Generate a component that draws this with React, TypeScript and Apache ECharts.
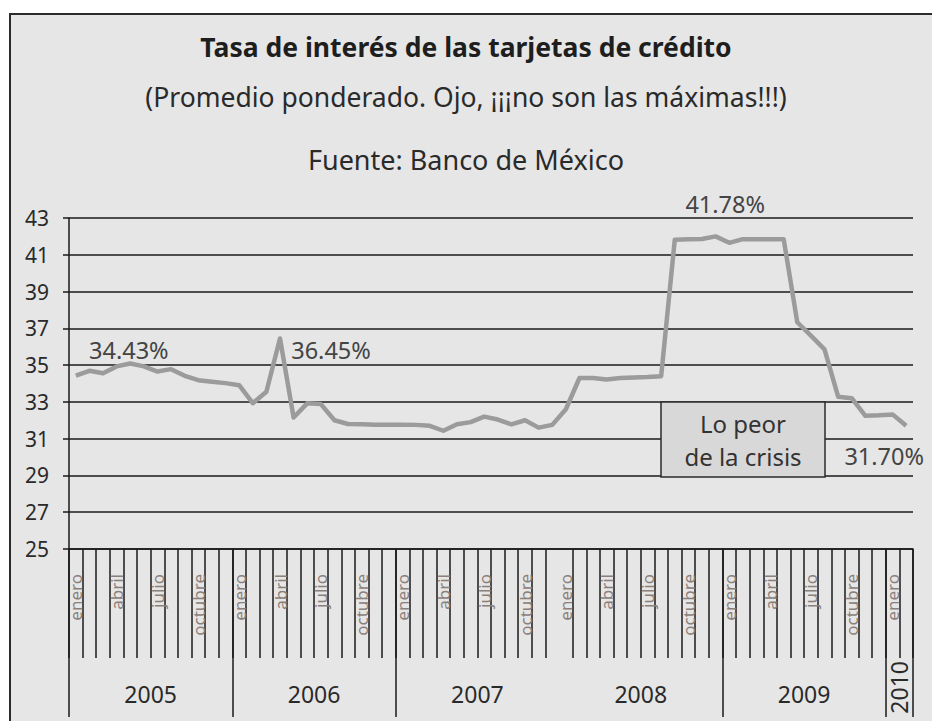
import React, { useEffect, useRef } from 'react';
import * as echarts from 'echarts';

const monthNames = ['enero', 'febrero', 'marzo', 'abril', 'mayo', 'junio', 'julio', 'agosto', 'septiembre', 'octubre', 'noviembre', 'diciembre'];
const years = ['2005', '2006', '2007', '2008', '2009', '2010'];
const monthsPerYear = [12, 12, 12, 12, 12, 2];
const labeledMonths = ['enero', 'abril', 'julio', 'octubre'];

// Tasa de interés promedio ponderado (%), mensual ene-2005 a feb-2010
const rates2005 = [34.43, 34.69, 34.56, 34.93, 35.09, 34.93, 34.65, 34.78, 34.42, 34.18, 34.10, 34.02];
const rates2006 = [33.91, 32.93, 33.55, 36.45, 32.15, 32.92, 32.88, 32.00, 31.80, 31.78, 31.76, 31.76];
const rates2007 = [31.76, 31.75, 31.70, 31.43, 31.78, 31.90, 32.20, 32.04, 31.78, 32.00, 31.60, 31.75];
const rates2008 = [32.60, 34.30, 34.30, 34.22, 34.30, 34.32, 34.35, 34.40, 41.82, 41.84, 41.86, 42.00];
const rates2009 = [41.65, 41.85, 41.85, 41.85, 41.85, 37.33, 36.60, 35.86, 33.28, 33.20, 32.24, 32.27];
const rates2010 = [32.32, 31.70];

const yTicks = [25, 27, 29, 31, 33, 35, 37, 39, 41, 43];
// month offsets of the long year divider lines (the 2008 divider is absent in the source)
const yearDividers = [0, 12, 24, 48, 60, 62];
const yearLabelAt = [6, 18, 30, 42, 54];
const lastYearLabelAt = [61];

const labelIndex = [0, 15, 48, 61];
const labelText = ['34.43%', '36.45%', '41.78%', '31.70%'];

const boxText = 'Lo peor\nde la crisis';

const FONT = '"Noto Sans", "DejaVu Sans", sans-serif';

export default function App() {
  const ref = useRef<HTMLDivElement>(null);
  useEffect(() => {
    if (!ref.current) return;
    const chart = echarts.init(ref.current, undefined, { renderer: 'svg' });

    const categories: string[] = [];
    years.forEach((y, yi) => {
      for (let m = 0; m < monthsPerYear[yi]; m++) categories.push(y + '|' + monthNames[m]);
    });
    const rates = [...rates2005, ...rates2006, ...rates2007, ...rates2008, ...rates2009, ...rates2010];

    // month ticks: all boundaries except the one at start of 2008 (missing in source)
    const monthTickIdx: number[] = [];
    for (let i = 0; i < categories.length; i++) if (i !== 36) monthTickIdx.push(i);

    const labelOffsets = [[53, -26], [51, 12], [-4, -39], [-22, 30]];

    const option: any = {
      animation: false,
      backgroundColor: '#ffffff',
      textStyle: { fontFamily: FONT },
      title: [
        { text: 'Tasa de interés de las tarjetas de crédito', left: 'center', top: 28,
          textStyle: { fontSize: 26.5, fontWeight: 'bold', color: '#1e1e1e', fontFamily: FONT } },
        { text: '(Promedio ponderado. Ojo, ¡¡¡no son las máximas!!!)', left: 'center', top: 78,
          textStyle: { fontSize: 26.5, fontWeight: 'normal', color: '#2a2a2a', fontFamily: FONT } },
        { text: 'Fuente: Banco de México', left: 'center', top: 141,
          textStyle: { fontSize: 27, fontWeight: 'normal', color: '#2a2a2a', fontFamily: FONT } },
      ],
      graphic: [
        { type: 'rect', z: -10, silent: true,
          shape: { x: 10, y: 14, width: 940, height: 720 },
          style: { fill: '#e6e6e6', stroke: '#2b2b2b', lineWidth: 2 } },
        { type: 'rect', z: 50,
          shape: { x: 661, y: 402, width: 164, height: 75 },
          style: { fill: '#d8d8d8', stroke: '#2b2b2b', lineWidth: 1.5 } },
        { type: 'text', z: 51, x: 743, y: 440,
          style: { text: boxText, fill: '#333', font: '24px ' + FONT, textAlign: 'center', textVerticalAlign: 'middle', lineHeight: 33 } },
      ],
      grid: { left: 69, right: 19, top: 218, bottom: 172, containLabel: false },
      xAxis: [
        {
          type: 'category', data: categories, boundaryGap: true, position: 'bottom',
          axisLine: { show: true, lineStyle: { color: '#1a1a1a', width: 1.5 } },
          axisTick: { show: true, length: 109, customValues: monthTickIdx, lineStyle: { color: '#1a1a1a', width: 1.5 } },
          axisLabel: {
            interval: 0, rotate: 90, margin: 25, fontSize: 17, color: '#8a807b', fontFamily: FONT,
            formatter: (v: string) => { const m = v.split('|')[1]; return labeledMonths.includes(m) ? m : ''; },
          },
          splitLine: { show: false },
        },
        {
          type: 'value', min: 0, max: 62, position: 'bottom',
          axisLine: { show: false },
          axisTick: { show: true, length: 168, customValues: yearDividers, lineStyle: { color: '#1a1a1a', width: 1.5 } },
          axisLabel: { show: false },
          splitLine: { show: false },
        },
        {
          type: 'value', min: 0, max: 62, position: 'bottom',
          axisLine: { show: false }, axisTick: { show: false }, splitLine: { show: false },
          axisLabel: { show: true, customValues: yearLabelAt, margin: 133, fontSize: 23, color: '#2a2a2a', fontFamily: FONT,
            formatter: (v: number) => years[Math.round((v - 6) / 12)] },
        },
        {
          type: 'value', min: 0, max: 62, position: 'bottom',
          axisLine: { show: false }, axisTick: { show: false }, splitLine: { show: false },
          axisLabel: { show: true, customValues: lastYearLabelAt, rotate: 90, margin: 112, fontSize: 23, color: '#2a2a2a', fontFamily: FONT,
            formatter: () => years[years.length - 1] },
        },
      ],
      yAxis: {
        type: 'value', min: 25, max: 43,
        axisLine: { show: true, lineStyle: { color: '#1a1a1a', width: 1.5 } },
        axisTick: { show: true, length: 6, customValues: yTicks, lineStyle: { color: '#1a1a1a', width: 1.5 } },
        axisLabel: { customValues: yTicks, margin: 20, fontSize: 21, color: '#2a2a2a', fontFamily: FONT },
        splitLine: { show: true, lineStyle: { color: '#1a1a1a', width: 1.5 } },
      },
      series: [
        {
          type: 'line', data: rates, xAxisIndex: 0, yAxisIndex: 0,
          showSymbol: false, symbol: 'none',
          lineStyle: { color: '#9b9b9b', width: 4.5, join: 'round' },
          z: 5,
          markPoint: {
            symbol: 'circle', symbolSize: 0,
            label: { show: true, fontSize: 23.5, color: '#444', fontFamily: FONT },
            data: labelIndex.map((idx, k) => ({
              coord: [idx, rates[idx]],
              value: labelText[k],
              label: { formatter: labelText[k], offset: labelOffsets[k] },
            })),
          },
        },
      ],
    };
    chart.setOption(option);
    return () => chart.dispose();
  }, []);
  return <div ref={ref} style={{ position: 'fixed', left: 0, top: 0, width: 932, height: 721 }} />;
}
